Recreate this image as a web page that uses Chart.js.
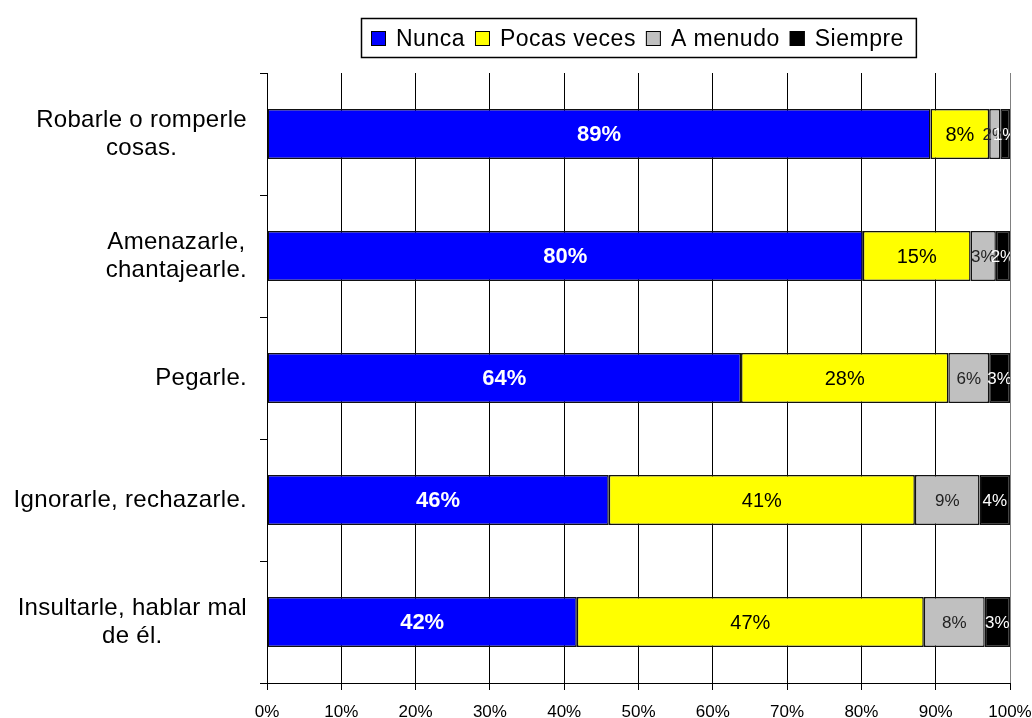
<!DOCTYPE html>
<html>
<head>
<meta charset="utf-8">
<script src="https://cdn.jsdelivr.net/npm/chart.js@4.4.1/dist/chart.umd.min.js"></script>
<style>
  html, body { margin: 0; padding: 0; background: #fff; }
  #wrap { width: 1032px; height: 718px; }
</style>
</head>
<body>
<div id="wrap"><canvas id="chart" width="1032" height="718"></canvas></div>
<script>
// Answers per behaviour, percent of respondents
const categories = [
    ['Robarle o romperle', 'cosas.'],
    ['Amenazarle,', 'chantajearle.'],
    ['Pegarle.'],
    ['Ignorarle, rechazarle.'],
    ['Insultarle, hablar mal', 'de él.']
];
const seriesNames = ['Nunca', 'Pocas veces', 'A menudo', 'Siempre'];
const nunca = [89.3, 80.2, 63.8, 46.0, 41.7];
const pocasVeces = [7.9, 14.5, 27.9, 41.2, 46.7];
const aMenudo = [1.5, 3.4, 5.5, 8.7, 8.2];
const siempre = [1.3, 1.9, 2.8, 4.1, 3.4];
const xTickStep = 10;

const FONT = "'Liberation Sans', Arial, sans-serif";
const colors = ['#0000FF', '#FFFF00', '#C0C0C0', '#000000'];
const labelStyle = [
    { color: '#FFFFFF', font: 'bold 22px ' + FONT },
    { color: '#000000', font: '20px ' + FONT },
    { color: '#222222', font: '17px ' + FONT },
    { color: '#FFFFFF', font: '17px ' + FONT }
];

// value labels in the middle of each segment
const segmentLabels = {
    id: 'segmentLabels',
    afterDatasetsDraw(chart) {
        const { ctx, chartArea } = chart;
        ctx.save();
        ctx.beginPath();
        ctx.rect(chartArea.left, chartArea.top, chartArea.right - chartArea.left, chartArea.bottom - chartArea.top);
        ctx.clip();
        ctx.textAlign = 'center';
        ctx.textBaseline = 'middle';
        chart.data.datasets.forEach((ds, di) => {
            const meta = chart.getDatasetMeta(di);
            ctx.fillStyle = labelStyle[di].color;
            ctx.font = labelStyle[di].font;
            meta.data.forEach((bar, i) => {
                const x = (bar.x + bar.base) / 2;
                ctx.fillText(Math.round(ds.data[i]) + '%', x, bar.y + 1);
            });
        });
        ctx.restore();
    }
};

// category names: lines centred, block right-aligned next to the axis
const categoryLabels = {
    id: 'categoryLabels',
    afterDraw(chart) {
        const { ctx } = chart;
        const yScale = chart.scales.y;
        const lineH = 28;
        ctx.save();
        ctx.font = '24px ' + FONT;
        ctx.letterSpacing = '0.3px';
        ctx.fillStyle = '#000';
        ctx.textAlign = 'center';
        ctx.textBaseline = 'middle';
        categories.forEach((lines, i) => {
            const yc = yScale.getPixelForTick(i);
            const w = Math.max(...lines.map(l => ctx.measureText(l).width));
            const cx = 247 - w / 2;
            const y0 = yc - (lines.length - 1) * lineH / 2;
            lines.forEach((l, k) => ctx.fillText(l, cx, y0 + k * lineH));
        });
        ctx.restore();
    }
};

// boxed legend above the plot
const boxLegend = {
    id: 'boxLegend',
    afterDraw(chart) {
        const { ctx, chartArea } = chart;
        const sq = 15, gapText = 10, gapItem = 10, padL = 10, padR = 12;
        ctx.save();
        ctx.font = '23px ' + FONT;
        ctx.letterSpacing = '0.5px';
        const widths = seriesNames.map(n => ctx.measureText(n).width);
        let total = padL + padR;
        widths.forEach((w, i) => { total += sq + gapText + w + (i < widths.length - 1 ? gapItem : 0); });
        const boxL = Math.round((chartArea.left + chartArea.right) / 2 - total / 2);
        const boxT = 18, boxH = 39;
        ctx.strokeStyle = '#000';
        ctx.lineWidth = 1.5;
        ctx.strokeRect(boxL + 0.5, boxT + 0.5, total, boxH);
        let x = boxL + padL;
        const yc = boxT + boxH / 2 + 1;
        ctx.textBaseline = 'middle';
        ctx.textAlign = 'left';
        seriesNames.forEach((n, i) => {
            ctx.fillStyle = colors[i];
            ctx.fillRect(x, yc - sq / 2, sq, sq);
            ctx.lineWidth = 1;
            ctx.strokeRect(x + 0.5, yc - sq / 2 + 0.5, sq - 1, sq - 1);
            x += sq + gapText;
            ctx.fillStyle = '#000';
            ctx.fillText(n, x, yc + 1);
            x += widths[i] + gapItem;
        });
        ctx.restore();
    }
};

const seriesValues = [nunca, pocasVeces, aMenudo, siempre];

new Chart(document.getElementById('chart'), {
    type: 'bar',
    data: {
        labels: categories,
        datasets: seriesNames.map((name, i) => ({
            label: name,
            data: seriesValues[i],
            backgroundColor: colors[i],
            borderColor: '#111',
            borderWidth: 1.5,
            borderSkipped: false,
            barPercentage: 0.41,
            categoryPercentage: 1
        }))
    },
    options: {
        indexAxis: 'y',
        responsive: false,
        animation: false,
        layout: { padding: { top: 73, right: 22, left: 0, bottom: 0 } },
        plugins: {
            legend: { display: false },
            tooltip: { enabled: false }
        },
        scales: {
            x: {
                stacked: true,
                min: 0,
                max: 100,
                ticks: {
                    stepSize: xTickStep,
                    callback: v => v + '%',
                    color: '#000',
                    font: { family: FONT, size: 17 },
                    padding: 12,
                    maxRotation: 0
                },
                grid: {
                    color: ctx => ctx.tick && ctx.tick.value === 100 ? '#808080' : '#000',
                    lineWidth: 1,
                    drawTicks: true,
                    tickLength: 7,
                    tickColor: '#000'
                },
                border: { display: true, color: '#000', width: 1 },
                afterFit: s => { s.height = 35; s.paddingRight = 0; s.paddingLeft = 0; }
            },
            y: {
                stacked: true,
                ticks: { display: false },
                grid: {
                    offset: true,
                    drawOnChartArea: false,
                    drawTicks: true,
                    tickLength: 7,
                    color: '#000'
                },
                border: { display: true, color: '#000', width: 1 },
                afterFit: s => { s.width = 267; }
            }
        }
    },
    plugins: [segmentLabels, categoryLabels, boxLegend]
});
</script>
</body>
</html>
